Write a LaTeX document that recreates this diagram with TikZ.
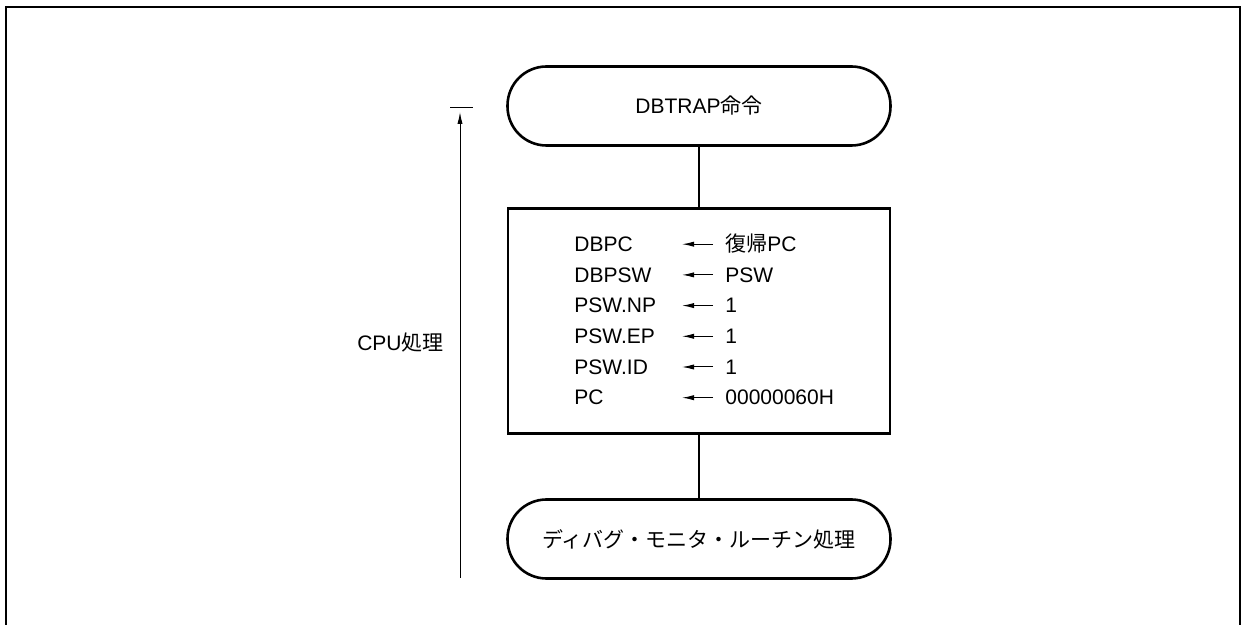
\documentclass[tikz,border=0pt]{standalone}
\usepackage{fontspec}
\setmainfont{Liberation Sans}
\newfontfamily\cjk{Noto Sans CJK JP}
\newcommand{\ja}[1]{{\cjk #1}}
\usetikzlibrary{arrows.meta}
\tikzset{
  term/.style={draw,line width=1.3pt,rounded corners=19.5pt,
    minimum width=191.5pt,minimum height=39.5pt,inner sep=0pt},
  procbox/.style={draw,line width=1.3pt,minimum width=191pt,
    minimum height=112.5pt,inner sep=0pt},
  link/.style={line width=0.7pt},
  regline/.style={anchor=base west,inner sep=0pt},
  assign/.style={-{Latex[length=6pt,width=2.6pt]},line width=0.5pt}
}
\begin{document}
\begin{tikzpicture}[x=0.5pt,y=-0.5pt,font=\fontsize{10.5}{12}\selectfont]
\useasboundingbox (0,0) rectangle (1243,625);
% outer frame, open at the bottom
\draw[line width=1pt] (6,625)--(6,7)--(1240,7)--(1240,625);
% flow
\node[term] (start) at (699,106) {DBTRAP\ja{命令}};
\node[procbox] (proc) at (699,321) {};
\node[term] (end) at (699,539) {\ja{ディバグ・モニタ・ルーチン処理}};
\draw[link] (start) -- (proc);
\draw[link] (proc) -- (end);
% register assignments
\foreach \i/\lhs/\rhs in {1/DBPC/\ja{復帰}PC, 2/DBPSW/PSW, 3/PSW.NP/1,
    4/PSW.EP/1, 5/PSW.ID/1, 6/PC/00000060H} {
  \pgfmathsetmacro{\yb}{251.5+30.7*(\i-1)}
  \node[regline] (l\i) at (574,\yb) {\lhs};
  \node[regline] (r\i) at (725,\yb) {\rhs};
  \coordinate (t\i) at (682,\yb-7.3);
  \draw[assign] (713,\yb-7.3) -- (t\i);
}
% CPU span
\coordinate (cputop) at (460,112);
\coordinate (cpubot) at (460,578);
\coordinate (tickl) at (450,108);
\coordinate (tickr) at (473,108);
\draw[assign] (cpubot) -- (cputop);
\draw[line width=0.5pt] (tickl) -- (tickr);
\node[anchor=east,inner sep=0pt] (cpu) at (444,343) {CPU\ja{処理}};
\end{tikzpicture}
\end{document}
